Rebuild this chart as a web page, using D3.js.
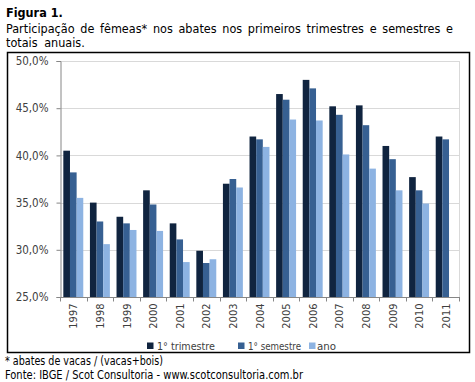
<!DOCTYPE html>
<html>
<head>
<meta charset="utf-8">
<script src="https://cdn.jsdelivr.net/npm/d3@7"></script>
<style>
  body { margin: 0; background: #fff; }
  text { font-family: "DejaVu Sans Condensed", "DejaVu Sans", sans-serif; }
</style>
</head>
<body>
<div id="chart"></div>
<script>
// anos e series (% de femeas nos abates)
var years = ["1997","1998","1999","2000","2001","2002","2003","2004","2005","2006","2007","2008","2009","2010","2011"];
var trimestre = [40.5, 35.0, 33.5, 36.3, 32.8, 29.9, 37.0, 42.0, 46.5, 48.0, 45.2, 45.3, 41.0, 37.7, 42.0];
var semestre  = [38.2, 33.0, 32.8, 34.8, 31.1, 28.6, 37.5, 41.7, 45.9, 47.1, 44.3, 43.2, 39.6, 36.3, 41.7];
var ano       = [35.5, 30.6, 32.1, 32.0, 28.7, 29.0, 36.6, 40.9, 43.8, 43.7, 40.1, 38.6, 36.3, 34.9, null];
var seriesNames = ["1° trimestre", "1° semestre", "ano"];
var colors = ["#10243f", "#376092", "#8db3e2"];
var yTicks = [25, 30, 35, 40, 45, 50];

var width = 475, height = 382;
var svg = d3.select("#chart").append("svg")
  .attr("width", width)
  .attr("height", height);

/* titulo */
svg.append("text")
  .attr("x", 6).attr("y", 17)
  .style("font-size", "12.5px").style("font-weight", "bold")
  .text("Figura 1.");

var line2 = svg.append("text")
  .attr("x", 6).attr("y", 33)
  .style("font-size", "12.5px")
  .text("Participação de fêmeas* nos abates nos primeiros trimestres e semestres e");
// justificado ate a margem direita
var w2 = line2.node().getComputedTextLength();
var nSp = line2.text().split(" ").length - 1;
line2.style("word-spacing", ((453 - 6 - w2) / nSp) + "px");

svg.append("text")
  .attr("x", 6).attr("y", 47)
  .style("font-size", "12.5px")
  .style("word-spacing", "3px")
  .text("totais anuais.");

/* moldura */
svg.append("rect")
  .attr("x", 7.5).attr("y", 52.5)
  .attr("width", 462).attr("height", 300)
  .attr("fill", "none")
  .attr("stroke", "#000")
  .attr("stroke-width", 1.5);

var plot = { left: 60, right: 459, top: 61, bottom: 297 };

var y = d3.scaleLinear().domain([25, 50]).range([plot.bottom, plot.top]);
var x = d3.scaleBand().domain(years)
  .range([plot.left, plot.right])
  .paddingInner(0.25).paddingOuter(0.125);
var x1 = d3.scaleBand().domain(d3.range(seriesNames.length))
  .range([0, x.bandwidth()]);

/* grade */
svg.append("g")
  .selectAll("line")
  .data(yTicks.slice(1))
  .enter().append("line")
  .attr("x1", plot.left).attr("x2", plot.right)
  .attr("y1", function(d) { return Math.round(y(d)) + 0.5; })
  .attr("y2", function(d) { return Math.round(y(d)) + 0.5; })
  .attr("stroke", "#d9d9d9");

svg.append("line")
  .attr("x1", plot.right + 0.5).attr("x2", plot.right + 0.5)
  .attr("y1", plot.top).attr("y2", plot.bottom)
  .attr("stroke", "#d9d9d9");

/* barras */
var allSeries = [trimestre, semestre, ano];
var groups = svg.append("g").selectAll("g")
  .data(allSeries)
  .enter().append("g")
  .attr("fill", function(d, i) { return colors[i]; });

groups.each(function(vals, si) {
  d3.select(this).selectAll("rect")
    .data(vals.map(function(v, i) { return { year: years[i], v: v }; })
      .filter(function(d) { return d.v != null; }))
    .enter().append("rect")
    .attr("x", function(d) { return x(d.year) + x1(si); })
    .attr("width", x1.bandwidth())
    .attr("y", function(d) { return y(d.v); })
    .attr("height", function(d) { return y(25) - y(d.v); });
});

/* eixo y */
var yAxis = svg.append("g")
  .attr("transform", "translate(" + (plot.left + 0.5) + ",0)")
  .call(d3.axisLeft(y).tickValues(yTicks).tickSize(4)
    .tickFormat(function(d) { return d.toFixed(1).replace(".", ",") + "%"; }));
yAxis.select(".domain").attr("stroke", "#868686");
yAxis.selectAll(".tick line").attr("stroke", "#868686");
yAxis.selectAll("text")
  .attr("x", -12)
  .attr("fill", "#404040")
  .style("font-size", "11.5px")
  .style("font-family", "'DejaVu Sans Condensed', 'DejaVu Sans', sans-serif");

/* eixo x */
var xAxis = svg.append("g")
  .attr("transform", "translate(0," + (plot.bottom + 0.5) + ")");
xAxis.append("line")
  .attr("x1", plot.left).attr("x2", plot.right + 1)
  .attr("stroke", "#868686");
xAxis.selectAll("line.tk")
  .data(d3.range(years.length + 1))
  .enter().append("line")
  .attr("class", "tk")
  .attr("x1", function(i) { return Math.round(plot.left + i * x.step()) + 0.5; })
  .attr("x2", function(i) { return Math.round(plot.left + i * x.step()) + 0.5; })
  .attr("y1", 0).attr("y2", 4)
  .attr("stroke", "#868686");
xAxis.selectAll("text")
  .data(years)
  .enter().append("text")
  .attr("transform", function(d) {
    return "translate(" + (x(d) + x.bandwidth() / 2 + 4) + ",6) rotate(-90)";
  })
  .attr("text-anchor", "end")
  .attr("fill", "#404040")
  .style("font-size", "11px")
  .text(function(d) { return d; });

/* legenda */
var legX = [147, 238, 309];
var legW = [58, 53, 19];
var leg = svg.append("g").selectAll("g")
  .data(seriesNames)
  .enter().append("g")
  .attr("transform", function(d, i) { return "translate(" + legX[i] + ",346)"; });
leg.append("rect")
  .attr("x", 0).attr("y", -3.5)
  .attr("width", 6.5).attr("height", 6.5)
  .attr("fill", function(d, i) { return colors[i]; });
leg.append("text")
  .attr("x", function(d, i) { return i == 2 ? 8 : 10; }).attr("y", 4)
  .attr("fill", "#404040")
  .style("font-size", "11px")
  .attr("textLength", function(d, i) { return legW[i]; })
  .attr("lengthAdjust", "spacingAndGlyphs")
  .text(function(d) { return d; });

/* notas */
svg.append("text")
  .attr("x", 5).attr("y", 365)
  .style("font-size", "11.5px")
  .attr("textLength", 158).attr("lengthAdjust", "spacingAndGlyphs")
  .text("* abates de vacas / (vacas+bois)");
svg.append("text")
  .attr("x", 5).attr("y", 379)
  .style("font-size", "11.5px")
  .attr("textLength", 298).attr("lengthAdjust", "spacingAndGlyphs")
  .text("Fonte: IBGE / Scot Consultoria - www.scotconsultoria.com.br");
</script>
</body>
</html>
